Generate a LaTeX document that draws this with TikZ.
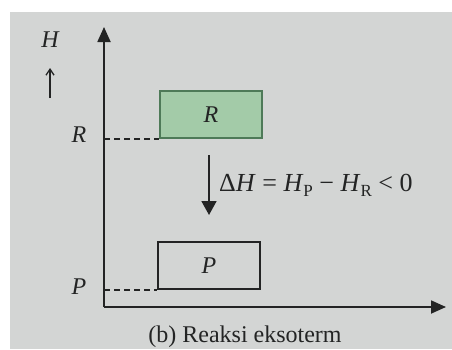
\documentclass[tikz,border=0pt]{standalone}
\usepackage{fontspec}
\setmainfont{Liberation Serif}
\usetikzlibrary{arrows.meta}
\definecolor{bg}{HTML}{D3D5D4}
\definecolor{ink}{HTML}{232424}
\definecolor{rfill}{HTML}{A3CBA8}
\definecolor{redge}{HTML}{4E7A58}
\tikzset{
  axis/.style={draw=ink, line width=1.8pt, -{Triangle[length=15pt,width=13pt]}},
  level/.style={draw=ink, line width=1.5pt, dash pattern=on 6pt off 4pt},
  lbl/.style={text=ink, font=\fontsize{24}{28}\selectfont\itshape, inner sep=0pt},
  boxR/.style={draw=redge, fill=rfill, line width=1.7pt, minimum width=102pt, minimum height=47pt, inner sep=0pt, anchor=south west},
  boxP/.style={draw=ink, line width=1.7pt, minimum width=102pt, minimum height=47pt, inner sep=0pt, anchor=south west},
}
\begin{document}
\begin{tikzpicture}[x=1pt,y=1pt]
\useasboundingbox (0,0) rectangle (452,349);
\fill[white] (0,0) rectangle (452,349);
\fill[bg] (10,0) rectangle (452,337);
% axes
\coordinate (O) at (104,42);
\coordinate (Ytip) at (104,322);
\coordinate (Xtip) at (446,42);
\draw[axis] (O) -- (Ytip);
\draw[axis] (O) -- (Xtip);
% labels on y axis
\node[lbl] (H) at (50,309) {H};
\coordinate (ua) at (50,251);
\coordinate (ub) at (50,281);
\draw[ink, line width=1.3pt, -{Straight Barb[length=6pt,width=8pt]}] (ua) -- (ub);
% boxes
\node[boxR] (Rbox) at (159,210) {};
\node[lbl] at (Rbox.center) {R};
\node[boxP] (Pbox) at (157,59) {};
\node[lbl] at (Pbox.center) {P};
% level lines
\coordinate (Ry) at (104,210);
\coordinate (Py) at (104,59);
\draw[level] (Ry) -- (Rbox.south west);
\draw[level] (Py) -- (Pbox.south west);
\node[lbl] (Rl) at (79,214) {R};
\node[lbl] (Pl) at (79,62) {P};
% delta H arrow
\coordinate (da) at (209,194);
\coordinate (db) at (209,134);
\draw[draw=ink, line width=1.8pt, -{Triangle[length=14pt,width=15pt]}] (da) -- (db);
\node[text=ink, font=\fontsize{26}{30}\selectfont, anchor=base west, inner sep=0pt] (eq) at (219,158)
  {Δ\textit{H} = \textit{H}\raisebox{-5pt}{\fontsize{17}{19}\selectfont P} − \textit{H}\raisebox{-5pt}{\fontsize{17}{19}\selectfont R} < 0};
% caption
\node[text=ink, font=\fontsize{24}{28}\selectfont, inner sep=0pt] (cap) at (245,12) {(b) Reaksi eksoterm};
\end{tikzpicture}
\end{document}
